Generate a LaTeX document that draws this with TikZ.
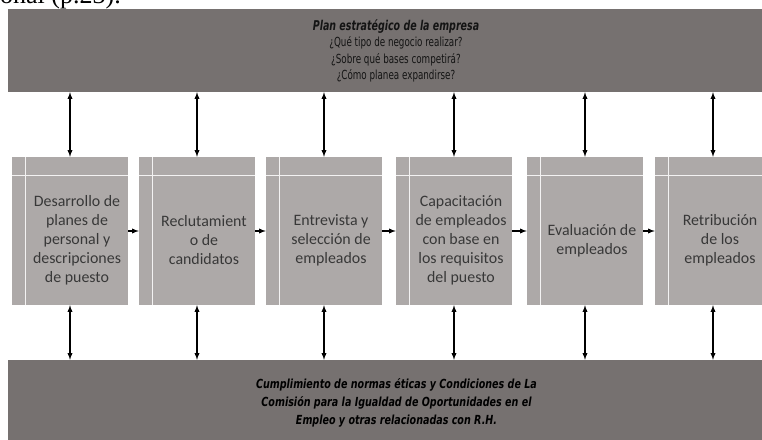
\documentclass[tikz,border=0pt]{standalone}
\usepackage{fontspec}
\setmainfont{Carlito}
\newfontfamily\condfont[FakeStretch=0.78]{DejaVu Sans Condensed}
\newfontfamily\normsfont[FakeStretch=0.85]{DejaVu Sans Condensed}
\newfontfamily\timesfont{Liberation Serif}
\usepackage{tikz}
\usetikzlibrary{arrows.meta, calc}
\definecolor{bardark}{HTML}{767170}
\definecolor{boxgray}{HTML}{ADA9A8}

\begin{document}
\begin{tikzpicture}[x=1pt, y=-1pt]
    \useasboundingbox (0,0) rectangle (762,439);
    \clip (0,0) rectangle (762,439);
    \node[anchor=base west, inner sep=0pt, font=\timesfont\fontsize{26}{30}\selectfont] (pagetext) at (0,4) {onal (p.23).};
    % bars
    \node[fill=bardark, minimum width=776pt, minimum height=83pt, inner sep=0pt] (plan) at (396,50.5) {};
    \node[fill=bardark, minimum width=778pt, minimum height=86pt, inner sep=0pt] (norms) at (397,403) {};
    \node[align=center, text=black!92, font=\condfont\fontsize{12.5}{16.2}\selectfont] (plantext) at (396,51)
        {{\fontsize{13.5}{16.2}\selectfont\bfseries\itshape Plan estratégico de la empresa}\\ ¿Qué tipo de negocio realizar?\\ ¿Sobre qué bases competirá?\\ ¿Cómo planea expandirse?};
    \node[align=center, text=black, font=\normsfont\bfseries\itshape\fontsize{12.5}{18}\selectfont] (normstext) at (396.5,403)
        {Cumplimiento de normas éticas y Condiciones de La\\ Comisión para la Igualdad de Oportunidades en el\\ Empleo y otras relacionadas con R.H.};
    % boxes
    \foreach \n/\x/\txt in {1/70/{Desarrollo de\\planes de\\personal y\\descripciones\\de puesto},
                            2/197/{Reclutamient\\o de\\candidatos},
                            3/324/{Entrevista y\\selección de\\empleados},
                            4/454/{Capacitación\\de empleados\\con base en\\los requisitos\\del puesto},
                            5/585/{Evaluación de\\empleados},
                            6/713/{Retribución\\de los\\empleados}} {
        \node[fill=boxgray, minimum width=116pt, minimum height=148pt, inner sep=0pt] (b\n) at (\x,231) {};
        \draw[white!85!boxgray, line width=0.9pt] ([xshift=14pt]b\n.north west) -- ([xshift=14pt]b\n.south west);
        \draw[white!85!boxgray, line width=0.9pt] ([yshift=-19pt]b\n.north west) -- ([yshift=-19pt]b\n.north east);
        \node[align=center, text=black!78, font=\fontsize{15.9}{19}\selectfont] (t\n) at ([xshift=7pt, yshift=-9.5pt]b\n.center) {\txt};
        \draw[latex-latex, line width=1.3pt] (plan.south -| b\n.north) -- (b\n.north);
        \draw[latex-latex, line width=1.3pt] (b\n.south) -- (norms.north -| b\n.south);
    }
    \foreach \a/\b in {1/2,2/3,3/4,4/5,5/6}
        \draw[-latex, line width=1.3pt] (b\a.east) -- (b\b.west);
\end{tikzpicture}
\end{document}
